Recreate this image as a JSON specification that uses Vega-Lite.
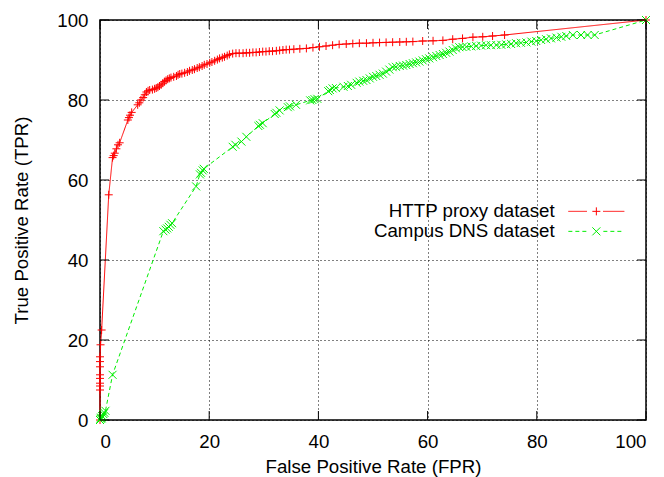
{
  "$schema": "https://vega.github.io/schema/vega-lite/v6.json",
  "width": 546,
  "height": 400,
  "autosize": "none",
  "padding": {"left": 100, "top": 20, "right": 18, "bottom": 57},
  "background": "white",
  "config": {
    "font": "Liberation Sans",
    "view": {"stroke": "#000", "strokeWidth": 1.5},
    "axis": {
      "labelFont": "Liberation Sans",
      "labelFontSize": 18.7,
      "labelColor": "#000",
      "titleFont": "Liberation Sans",
      "titleFontSize": 18.7,
      "titleFontWeight": "normal",
      "titleColor": "#000",
      "tickColor": "#000",
      "tickWidth": 1,
      "domain": false,
      "gridColor": "#000",
      "gridDash": [1, 3],
      "gridOpacity": 1,
      "gridWidth": 1
    },
    "legend": {
      "orient": "none",
      "title": null,
      "padding": 0,
      "labelFont": "Liberation Sans",
      "labelFontSize": 18.7,
      "labelColor": "#000",
      "labelAlign": "right",
      "labelOffset": -51,
      "labelLimit": 0,
      "symbolSize": 64,
      "symbolStrokeWidth": 1,
      "rowPadding": -2
    }
  },
  "data": {
    "values": [
      {"series": "HTTP proxy dataset", "i": 0, "fpr": 0, "tpr": 0},
      {"series": "HTTP proxy dataset", "i": 1, "fpr": 0, "tpr": 7.5},
      {"series": "HTTP proxy dataset", "i": 2, "fpr": 0, "tpr": 8.5},
      {"series": "HTTP proxy dataset", "i": 3, "fpr": 0, "tpr": 9.2},
      {"series": "HTTP proxy dataset", "i": 4, "fpr": 0, "tpr": 10.4},
      {"series": "HTTP proxy dataset", "i": 5, "fpr": 0, "tpr": 11.3},
      {"series": "HTTP proxy dataset", "i": 6, "fpr": 0, "tpr": 13.3},
      {"series": "HTTP proxy dataset", "i": 7, "fpr": 0, "tpr": 14.6},
      {"series": "HTTP proxy dataset", "i": 8, "fpr": 0, "tpr": 15.8},
      {"series": "HTTP proxy dataset", "i": 9, "fpr": 0.1, "tpr": 18.8},
      {"series": "HTTP proxy dataset", "i": 10, "fpr": 0.3, "tpr": 22.5},
      {"series": "HTTP proxy dataset", "i": 11, "fpr": 1.6, "tpr": 56.3},
      {"series": "HTTP proxy dataset", "i": 12, "fpr": 2.3, "tpr": 65.6},
      {"series": "HTTP proxy dataset", "i": 13, "fpr": 2.5, "tpr": 66.1},
      {"series": "HTTP proxy dataset", "i": 14, "fpr": 2.7, "tpr": 66.7},
      {"series": "HTTP proxy dataset", "i": 15, "fpr": 3.0, "tpr": 67.8},
      {"series": "HTTP proxy dataset", "i": 16, "fpr": 3.3, "tpr": 68.8},
      {"series": "HTTP proxy dataset", "i": 17, "fpr": 3.6, "tpr": 69.3},
      {"series": "HTTP proxy dataset", "i": 18, "fpr": 5.1, "tpr": 75.0},
      {"series": "HTTP proxy dataset", "i": 19, "fpr": 5.3, "tpr": 75.6},
      {"series": "HTTP proxy dataset", "i": 20, "fpr": 5.5, "tpr": 76.2},
      {"series": "HTTP proxy dataset", "i": 21, "fpr": 5.8, "tpr": 76.9},
      {"series": "HTTP proxy dataset", "i": 22, "fpr": 6.9, "tpr": 78.8},
      {"series": "HTTP proxy dataset", "i": 23, "fpr": 7.2, "tpr": 79.3},
      {"series": "HTTP proxy dataset", "i": 24, "fpr": 7.5, "tpr": 80.0},
      {"series": "HTTP proxy dataset", "i": 25, "fpr": 7.9, "tpr": 80.6},
      {"series": "HTTP proxy dataset", "i": 26, "fpr": 8.2, "tpr": 81.3},
      {"series": "HTTP proxy dataset", "i": 27, "fpr": 8.5, "tpr": 82.0},
      {"series": "HTTP proxy dataset", "i": 28, "fpr": 8.8, "tpr": 82.3},
      {"series": "HTTP proxy dataset", "i": 29, "fpr": 9.1, "tpr": 82.5},
      {"series": "HTTP proxy dataset", "i": 30, "fpr": 9.6, "tpr": 82.6},
      {"series": "HTTP proxy dataset", "i": 31, "fpr": 10.0, "tpr": 82.8},
      {"series": "HTTP proxy dataset", "i": 32, "fpr": 10.3, "tpr": 83.0},
      {"series": "HTTP proxy dataset", "i": 33, "fpr": 10.6, "tpr": 83.2},
      {"series": "HTTP proxy dataset", "i": 34, "fpr": 10.9, "tpr": 83.5},
      {"series": "HTTP proxy dataset", "i": 35, "fpr": 11.2, "tpr": 83.8},
      {"series": "HTTP proxy dataset", "i": 36, "fpr": 11.5, "tpr": 84.2},
      {"series": "HTTP proxy dataset", "i": 37, "fpr": 11.8, "tpr": 84.6},
      {"series": "HTTP proxy dataset", "i": 38, "fpr": 12.1, "tpr": 84.9},
      {"series": "HTTP proxy dataset", "i": 39, "fpr": 12.4, "tpr": 85.2},
      {"series": "HTTP proxy dataset", "i": 40, "fpr": 12.7, "tpr": 85.4},
      {"series": "HTTP proxy dataset", "i": 41, "fpr": 13.0, "tpr": 85.6},
      {"series": "HTTP proxy dataset", "i": 42, "fpr": 13.5, "tpr": 85.8},
      {"series": "HTTP proxy dataset", "i": 43, "fpr": 14.0, "tpr": 86.0},
      {"series": "HTTP proxy dataset", "i": 44, "fpr": 14.3, "tpr": 86.3},
      {"series": "HTTP proxy dataset", "i": 45, "fpr": 14.6, "tpr": 86.5},
      {"series": "HTTP proxy dataset", "i": 46, "fpr": 15.0, "tpr": 86.6},
      {"series": "HTTP proxy dataset", "i": 47, "fpr": 15.5, "tpr": 86.8},
      {"series": "HTTP proxy dataset", "i": 48, "fpr": 16.0, "tpr": 87.0},
      {"series": "HTTP proxy dataset", "i": 49, "fpr": 16.4, "tpr": 87.3},
      {"series": "HTTP proxy dataset", "i": 50, "fpr": 16.9, "tpr": 87.5},
      {"series": "HTTP proxy dataset", "i": 51, "fpr": 17.3, "tpr": 87.7},
      {"series": "HTTP proxy dataset", "i": 52, "fpr": 17.8, "tpr": 88.0},
      {"series": "HTTP proxy dataset", "i": 53, "fpr": 18.2, "tpr": 88.2},
      {"series": "HTTP proxy dataset", "i": 54, "fpr": 18.7, "tpr": 88.5},
      {"series": "HTTP proxy dataset", "i": 55, "fpr": 19.1, "tpr": 88.8},
      {"series": "HTTP proxy dataset", "i": 56, "fpr": 19.6, "tpr": 89.0},
      {"series": "HTTP proxy dataset", "i": 57, "fpr": 20.1, "tpr": 89.3},
      {"series": "HTTP proxy dataset", "i": 58, "fpr": 20.5, "tpr": 89.5},
      {"series": "HTTP proxy dataset", "i": 59, "fpr": 21.0, "tpr": 89.8},
      {"series": "HTTP proxy dataset", "i": 60, "fpr": 21.5, "tpr": 90.1},
      {"series": "HTTP proxy dataset", "i": 61, "fpr": 21.9, "tpr": 90.4},
      {"series": "HTTP proxy dataset", "i": 62, "fpr": 22.4, "tpr": 90.6},
      {"series": "HTTP proxy dataset", "i": 63, "fpr": 22.8, "tpr": 90.8},
      {"series": "HTTP proxy dataset", "i": 64, "fpr": 23.3, "tpr": 91.1},
      {"series": "HTTP proxy dataset", "i": 65, "fpr": 23.7, "tpr": 91.4},
      {"series": "HTTP proxy dataset", "i": 66, "fpr": 24.3, "tpr": 91.6},
      {"series": "HTTP proxy dataset", "i": 67, "fpr": 24.9, "tpr": 91.7},
      {"series": "HTTP proxy dataset", "i": 68, "fpr": 25.5, "tpr": 91.7},
      {"series": "HTTP proxy dataset", "i": 69, "fpr": 26.2, "tpr": 91.7},
      {"series": "HTTP proxy dataset", "i": 70, "fpr": 26.8, "tpr": 91.8},
      {"series": "HTTP proxy dataset", "i": 71, "fpr": 27.4, "tpr": 91.8},
      {"series": "HTTP proxy dataset", "i": 72, "fpr": 28.0, "tpr": 91.9},
      {"series": "HTTP proxy dataset", "i": 73, "fpr": 28.6, "tpr": 91.9},
      {"series": "HTTP proxy dataset", "i": 74, "fpr": 29.2, "tpr": 92.0},
      {"series": "HTTP proxy dataset", "i": 75, "fpr": 29.8, "tpr": 92.1},
      {"series": "HTTP proxy dataset", "i": 76, "fpr": 30.4, "tpr": 92.1},
      {"series": "HTTP proxy dataset", "i": 77, "fpr": 31.0, "tpr": 92.2},
      {"series": "HTTP proxy dataset", "i": 78, "fpr": 31.6, "tpr": 92.2},
      {"series": "HTTP proxy dataset", "i": 79, "fpr": 32.3, "tpr": 92.3},
      {"series": "HTTP proxy dataset", "i": 80, "fpr": 32.9, "tpr": 92.4},
      {"series": "HTTP proxy dataset", "i": 81, "fpr": 33.5, "tpr": 92.5},
      {"series": "HTTP proxy dataset", "i": 82, "fpr": 34.1, "tpr": 92.6},
      {"series": "HTTP proxy dataset", "i": 83, "fpr": 34.7, "tpr": 92.6},
      {"series": "HTTP proxy dataset", "i": 84, "fpr": 35.5, "tpr": 92.7},
      {"series": "HTTP proxy dataset", "i": 85, "fpr": 36.6, "tpr": 92.8},
      {"series": "HTTP proxy dataset", "i": 86, "fpr": 37.8, "tpr": 92.9},
      {"series": "HTTP proxy dataset", "i": 87, "fpr": 39.0, "tpr": 93.1},
      {"series": "HTTP proxy dataset", "i": 88, "fpr": 40.2, "tpr": 93.3},
      {"series": "HTTP proxy dataset", "i": 89, "fpr": 41.4, "tpr": 93.5},
      {"series": "HTTP proxy dataset", "i": 90, "fpr": 42.6, "tpr": 93.7},
      {"series": "HTTP proxy dataset", "i": 91, "fpr": 43.8, "tpr": 93.9},
      {"series": "HTTP proxy dataset", "i": 92, "fpr": 45.1, "tpr": 94.0},
      {"series": "HTTP proxy dataset", "i": 93, "fpr": 46.3, "tpr": 94.1},
      {"series": "HTTP proxy dataset", "i": 94, "fpr": 47.5, "tpr": 94.2},
      {"series": "HTTP proxy dataset", "i": 95, "fpr": 48.8, "tpr": 94.2},
      {"series": "HTTP proxy dataset", "i": 96, "fpr": 50.0, "tpr": 94.3},
      {"series": "HTTP proxy dataset", "i": 97, "fpr": 51.2, "tpr": 94.35},
      {"series": "HTTP proxy dataset", "i": 98, "fpr": 52.4, "tpr": 94.4},
      {"series": "HTTP proxy dataset", "i": 99, "fpr": 53.6, "tpr": 94.45},
      {"series": "HTTP proxy dataset", "i": 100, "fpr": 54.9, "tpr": 94.5},
      {"series": "HTTP proxy dataset", "i": 101, "fpr": 56.1, "tpr": 94.55},
      {"series": "HTTP proxy dataset", "i": 102, "fpr": 57.3, "tpr": 94.6},
      {"series": "HTTP proxy dataset", "i": 103, "fpr": 59.1, "tpr": 94.75},
      {"series": "HTTP proxy dataset", "i": 104, "fpr": 61.0, "tpr": 94.8},
      {"series": "HTTP proxy dataset", "i": 105, "fpr": 62.8, "tpr": 94.9},
      {"series": "HTTP proxy dataset", "i": 106, "fpr": 64.6, "tpr": 95.2},
      {"series": "HTTP proxy dataset", "i": 107, "fpr": 66.4, "tpr": 95.4},
      {"series": "HTTP proxy dataset", "i": 108, "fpr": 68.3, "tpr": 95.7},
      {"series": "HTTP proxy dataset", "i": 109, "fpr": 70.1, "tpr": 95.8},
      {"series": "HTTP proxy dataset", "i": 110, "fpr": 71.9, "tpr": 96.0},
      {"series": "HTTP proxy dataset", "i": 111, "fpr": 74.1, "tpr": 96.25},
      {"series": "HTTP proxy dataset", "i": 112, "fpr": 100, "tpr": 100},
      {"series": "Campus DNS dataset", "i": 0, "fpr": 0, "tpr": 0},
      {"series": "Campus DNS dataset", "i": 1, "fpr": 0.1, "tpr": 0.3},
      {"series": "Campus DNS dataset", "i": 2, "fpr": 0.2, "tpr": 0.6},
      {"series": "Campus DNS dataset", "i": 3, "fpr": 0.3, "tpr": 0.4},
      {"series": "Campus DNS dataset", "i": 4, "fpr": 0.4, "tpr": 1.0},
      {"series": "Campus DNS dataset", "i": 5, "fpr": 0.5, "tpr": 0.8},
      {"series": "Campus DNS dataset", "i": 6, "fpr": 0.6, "tpr": 1.5},
      {"series": "Campus DNS dataset", "i": 7, "fpr": 0.8, "tpr": 1.8},
      {"series": "Campus DNS dataset", "i": 8, "fpr": 1.0, "tpr": 2.3},
      {"series": "Campus DNS dataset", "i": 9, "fpr": 2.3, "tpr": 11.3},
      {"series": "Campus DNS dataset", "i": 10, "fpr": 11.6, "tpr": 47.2},
      {"series": "Campus DNS dataset", "i": 11, "fpr": 12.0, "tpr": 47.6},
      {"series": "Campus DNS dataset", "i": 12, "fpr": 12.3, "tpr": 47.9},
      {"series": "Campus DNS dataset", "i": 13, "fpr": 12.6, "tpr": 48.3},
      {"series": "Campus DNS dataset", "i": 14, "fpr": 12.9, "tpr": 48.8},
      {"series": "Campus DNS dataset", "i": 15, "fpr": 13.2, "tpr": 49.2},
      {"series": "Campus DNS dataset", "i": 16, "fpr": 17.6, "tpr": 58.4},
      {"series": "Campus DNS dataset", "i": 17, "fpr": 18.3, "tpr": 61.4},
      {"series": "Campus DNS dataset", "i": 18, "fpr": 18.5, "tpr": 61.8},
      {"series": "Campus DNS dataset", "i": 19, "fpr": 18.8, "tpr": 62.4},
      {"series": "Campus DNS dataset", "i": 20, "fpr": 19.0, "tpr": 62.8},
      {"series": "Campus DNS dataset", "i": 21, "fpr": 24.3, "tpr": 68.3},
      {"series": "Campus DNS dataset", "i": 22, "fpr": 24.8, "tpr": 68.8},
      {"series": "Campus DNS dataset", "i": 23, "fpr": 25.9, "tpr": 69.6},
      {"series": "Campus DNS dataset", "i": 24, "fpr": 26.8, "tpr": 70.8},
      {"series": "Campus DNS dataset", "i": 25, "fpr": 29.0, "tpr": 73.5},
      {"series": "Campus DNS dataset", "i": 26, "fpr": 29.3, "tpr": 73.8},
      {"series": "Campus DNS dataset", "i": 27, "fpr": 29.8, "tpr": 74.2},
      {"series": "Campus DNS dataset", "i": 28, "fpr": 32.0, "tpr": 76.5},
      {"series": "Campus DNS dataset", "i": 29, "fpr": 32.3, "tpr": 76.8},
      {"series": "Campus DNS dataset", "i": 30, "fpr": 32.9, "tpr": 77.4},
      {"series": "Campus DNS dataset", "i": 31, "fpr": 34.4, "tpr": 78.2},
      {"series": "Campus DNS dataset", "i": 32, "fpr": 34.8, "tpr": 78.4},
      {"series": "Campus DNS dataset", "i": 33, "fpr": 35.9, "tpr": 78.8},
      {"series": "Campus DNS dataset", "i": 34, "fpr": 38.5, "tpr": 79.9},
      {"series": "Campus DNS dataset", "i": 35, "fpr": 38.9, "tpr": 80.0},
      {"series": "Campus DNS dataset", "i": 36, "fpr": 39.3, "tpr": 80.2},
      {"series": "Campus DNS dataset", "i": 37, "fpr": 39.8, "tpr": 80.3},
      {"series": "Campus DNS dataset", "i": 38, "fpr": 41.8, "tpr": 82.2},
      {"series": "Campus DNS dataset", "i": 39, "fpr": 42.1, "tpr": 82.5},
      {"series": "Campus DNS dataset", "i": 40, "fpr": 42.6, "tpr": 82.9},
      {"series": "Campus DNS dataset", "i": 41, "fpr": 43.2, "tpr": 83.0},
      {"series": "Campus DNS dataset", "i": 42, "fpr": 44.6, "tpr": 83.3},
      {"series": "Campus DNS dataset", "i": 43, "fpr": 45.4, "tpr": 83.5},
      {"series": "Campus DNS dataset", "i": 44, "fpr": 46.0, "tpr": 83.8},
      {"series": "Campus DNS dataset", "i": 45, "fpr": 47.0, "tpr": 84.3},
      {"series": "Campus DNS dataset", "i": 46, "fpr": 47.5, "tpr": 84.6},
      {"series": "Campus DNS dataset", "i": 47, "fpr": 48.2, "tpr": 84.8},
      {"series": "Campus DNS dataset", "i": 48, "fpr": 48.8, "tpr": 85.0},
      {"series": "Campus DNS dataset", "i": 49, "fpr": 49.4, "tpr": 85.4},
      {"series": "Campus DNS dataset", "i": 50, "fpr": 50.0, "tpr": 85.8},
      {"series": "Campus DNS dataset", "i": 51, "fpr": 50.6, "tpr": 86.0},
      {"series": "Campus DNS dataset", "i": 52, "fpr": 51.2, "tpr": 86.3},
      {"series": "Campus DNS dataset", "i": 53, "fpr": 51.8, "tpr": 86.6},
      {"series": "Campus DNS dataset", "i": 54, "fpr": 52.4, "tpr": 87.1},
      {"series": "Campus DNS dataset", "i": 55, "fpr": 53.0, "tpr": 87.6},
      {"series": "Campus DNS dataset", "i": 56, "fpr": 53.6, "tpr": 88.2},
      {"series": "Campus DNS dataset", "i": 57, "fpr": 54.2, "tpr": 88.3},
      {"series": "Campus DNS dataset", "i": 58, "fpr": 54.9, "tpr": 88.5},
      {"series": "Campus DNS dataset", "i": 59, "fpr": 55.5, "tpr": 88.6},
      {"series": "Campus DNS dataset", "i": 60, "fpr": 56.1, "tpr": 88.75},
      {"series": "Campus DNS dataset", "i": 61, "fpr": 56.7, "tpr": 89.0},
      {"series": "Campus DNS dataset", "i": 62, "fpr": 57.3, "tpr": 89.2},
      {"series": "Campus DNS dataset", "i": 63, "fpr": 57.9, "tpr": 89.4},
      {"series": "Campus DNS dataset", "i": 64, "fpr": 58.5, "tpr": 89.6},
      {"series": "Campus DNS dataset", "i": 65, "fpr": 59.1, "tpr": 89.9},
      {"series": "Campus DNS dataset", "i": 66, "fpr": 59.7, "tpr": 90.2},
      {"series": "Campus DNS dataset", "i": 67, "fpr": 60.3, "tpr": 90.4},
      {"series": "Campus DNS dataset", "i": 68, "fpr": 61.0, "tpr": 90.7},
      {"series": "Campus DNS dataset", "i": 69, "fpr": 61.6, "tpr": 91.0},
      {"series": "Campus DNS dataset", "i": 70, "fpr": 62.2, "tpr": 91.25},
      {"series": "Campus DNS dataset", "i": 71, "fpr": 62.8, "tpr": 91.5},
      {"series": "Campus DNS dataset", "i": 72, "fpr": 63.4, "tpr": 91.8},
      {"series": "Campus DNS dataset", "i": 73, "fpr": 64.0, "tpr": 92.1},
      {"series": "Campus DNS dataset", "i": 74, "fpr": 64.6, "tpr": 92.5},
      {"series": "Campus DNS dataset", "i": 75, "fpr": 65.2, "tpr": 92.9},
      {"series": "Campus DNS dataset", "i": 76, "fpr": 65.8, "tpr": 93.2},
      {"series": "Campus DNS dataset", "i": 77, "fpr": 66.4, "tpr": 93.25},
      {"series": "Campus DNS dataset", "i": 78, "fpr": 67.1, "tpr": 93.3},
      {"series": "Campus DNS dataset", "i": 79, "fpr": 68.0, "tpr": 93.4},
      {"series": "Campus DNS dataset", "i": 80, "fpr": 68.9, "tpr": 93.5},
      {"series": "Campus DNS dataset", "i": 81, "fpr": 69.8, "tpr": 93.6},
      {"series": "Campus DNS dataset", "i": 82, "fpr": 70.7, "tpr": 93.7},
      {"series": "Campus DNS dataset", "i": 83, "fpr": 71.6, "tpr": 93.7},
      {"series": "Campus DNS dataset", "i": 84, "fpr": 72.6, "tpr": 93.75},
      {"series": "Campus DNS dataset", "i": 85, "fpr": 73.5, "tpr": 93.8},
      {"series": "Campus DNS dataset", "i": 86, "fpr": 74.4, "tpr": 93.9},
      {"series": "Campus DNS dataset", "i": 87, "fpr": 75.3, "tpr": 94.0},
      {"series": "Campus DNS dataset", "i": 88, "fpr": 76.2, "tpr": 94.2},
      {"series": "Campus DNS dataset", "i": 89, "fpr": 77.1, "tpr": 94.3},
      {"series": "Campus DNS dataset", "i": 90, "fpr": 78.1, "tpr": 94.4},
      {"series": "Campus DNS dataset", "i": 91, "fpr": 79.0, "tpr": 94.6},
      {"series": "Campus DNS dataset", "i": 92, "fpr": 79.9, "tpr": 94.75},
      {"series": "Campus DNS dataset", "i": 93, "fpr": 80.8, "tpr": 95.0},
      {"series": "Campus DNS dataset", "i": 94, "fpr": 81.7, "tpr": 95.2},
      {"series": "Campus DNS dataset", "i": 95, "fpr": 82.6, "tpr": 95.4},
      {"series": "Campus DNS dataset", "i": 96, "fpr": 83.6, "tpr": 95.6},
      {"series": "Campus DNS dataset", "i": 97, "fpr": 84.5, "tpr": 95.8},
      {"series": "Campus DNS dataset", "i": 98, "fpr": 85.4, "tpr": 96.0},
      {"series": "Campus DNS dataset", "i": 99, "fpr": 86.6, "tpr": 96.25},
      {"series": "Campus DNS dataset", "i": 100, "fpr": 88.1, "tpr": 96.25},
      {"series": "Campus DNS dataset", "i": 101, "fpr": 89.3, "tpr": 96.25},
      {"series": "Campus DNS dataset", "i": 102, "fpr": 90.6, "tpr": 96.25},
      {"series": "Campus DNS dataset", "i": 103, "fpr": 100, "tpr": 100}
    ]
  },
  "layer": [
    {
      "mark": {"type": "line", "strokeWidth": 1, "clip": false},
      "encoding": {
        "x": {
          "field": "fpr", "type": "quantitative",
          "scale": {"domain": [0, 100], "nice": false, "zero": false},
          "axis": {
            "title": "False Positive Rate (FPR)",
            "values": [0, 20, 40, 60, 80, 100],
            "grid": true,
            "ticks": false,
            "tickSize": 0,
            "labelPadding": 12,
            "titlePadding": 7
          }
        },
        "y": {
          "field": "tpr", "type": "quantitative",
          "scale": {"domain": [0, 100], "nice": false, "zero": false},
          "axis": {
            "title": "True Positive Rate (TPR)",
            "values": [0, 20, 40, 60, 80, 100],
            "grid": true,
            "ticks": false,
            "tickSize": 0,
            "labelPadding": 12,
            "titlePadding": 25
          }
        },
        "order": {"field": "i", "type": "quantitative"},
        "stroke": {
          "field": "series", "type": "nominal",
          "scale": {"domain": ["HTTP proxy dataset", "Campus DNS dataset"], "range": ["#ff0000", "#00ee00"]},
          "legend": {
            "legendX": 487,
            "legendY": 182,
            "symbolType": "M-7,0L7,0",
            "labelOpacity": 0
          }
        },
        "strokeDash": {
          "field": "series", "type": "nominal",
          "scale": {"domain": ["HTTP proxy dataset", "Campus DNS dataset"], "range": [[1, 0], [4, 3]]},
          "legend": {
            "legendX": 487,
            "legendY": 182,
            "symbolType": "M-7,0L7,0",
            "labelOpacity": 0
          }
        }
      }
    },
    {
      "mark": {"type": "point", "filled": false, "strokeWidth": 1, "size": 64, "opacity": 1, "clip": false},
      "encoding": {
        "x": {"field": "fpr", "type": "quantitative", "axis": null},
        "y": {"field": "tpr", "type": "quantitative", "axis": null},
        "color": {
          "field": "series", "type": "nominal",
          "scale": {"domain": ["Campus DNS dataset", "HTTP proxy dataset"], "range": ["#00ee00", "#ff0000"]},
          "legend": {
            "legendX": 487,
            "legendY": 182,
            "fillColor": "white",
            "values": ["HTTP proxy dataset", "Campus DNS dataset"]
          }
        },
        "shape": {
          "field": "series", "type": "nominal",
          "scale": {"domain": ["Campus DNS dataset", "HTTP proxy dataset"], "range": ["M-1,-1L1,1M-1,1L1,-1", "M-1,0L1,0M0,-1L0,1"]},
          "legend": {
            "legendX": 487,
            "legendY": 182,
            "fillColor": "white",
            "values": ["HTTP proxy dataset", "Campus DNS dataset"]
          }
        }
      }
    },
    {
      "data": {"values": [{"v": 0}, {"v": 20}, {"v": 40}, {"v": 60}, {"v": 80}, {"v": 100}]},
      "layer": [
        {
          "mark": {"type": "rule", "color": "#000", "strokeWidth": 1, "opacity": 1, "clip": false},
          "encoding": {
            "x": {"field": "v", "type": "quantitative", "axis": null},
            "y": {"datum": 0, "type": "quantitative", "axis": null},
            "y2": {"datum": 2.25}
          }
        },
        {
          "mark": {"type": "rule", "color": "#000", "strokeWidth": 1, "opacity": 1, "clip": false},
          "encoding": {
            "x": {"field": "v", "type": "quantitative", "axis": null},
            "y": {"datum": 100, "type": "quantitative", "axis": null},
            "y2": {"datum": 97.75}
          }
        },
        {
          "mark": {"type": "rule", "color": "#000", "strokeWidth": 1, "opacity": 1, "clip": false},
          "encoding": {
            "y": {"field": "v", "type": "quantitative", "axis": null},
            "x": {"datum": 0, "type": "quantitative", "axis": null},
            "x2": {"datum": 1.65}
          }
        },
        {
          "mark": {"type": "rule", "color": "#000", "strokeWidth": 1, "opacity": 1, "clip": false},
          "encoding": {
            "y": {"field": "v", "type": "quantitative", "axis": null},
            "x": {"datum": 100, "type": "quantitative", "axis": null},
            "x2": {"datum": 98.35}
          }
        }
      ]
    }
  ],
  "resolve": {"axis": {"x": "independent", "y": "independent"}}
}
